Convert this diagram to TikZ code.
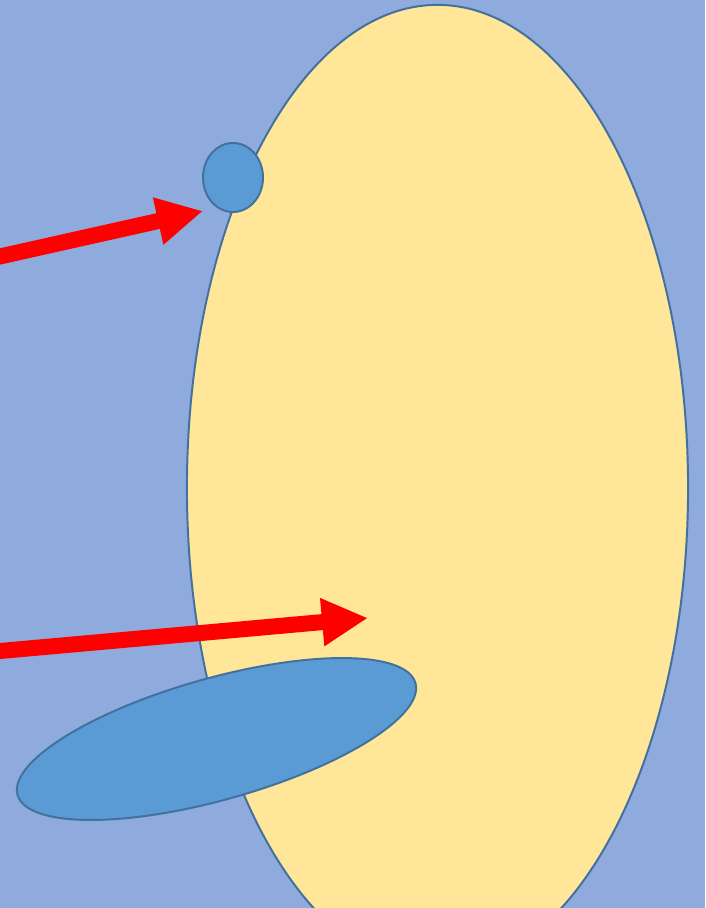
\documentclass[tikz,border=0pt]{standalone}
\definecolor{SkyBlue}{HTML}{8FAADC}
\definecolor{EggYellow}{HTML}{FFE699}
\definecolor{CellBlue}{HTML}{5B9BD5}
\definecolor{EdgeBlue}{HTML}{41719C}
\usetikzlibrary{arrows.meta, shapes.geometric}

\begin{document}
\begin{tikzpicture}[x=0.025cm, y=-0.025cm,
    blob/.style={ellipse, draw=EdgeBlue, line width=1.4pt, inner sep=0pt},
    pointer/.style={draw=red, line width=0.4cm,
      -{Triangle[length=1.15cm, width=1.125cm]}}]
  \clip (0,0) rectangle (705,908);
  \fill[SkyBlue] (0,0) rectangle (705,908);
  % Large cell body
  \node[blob, fill=EggYellow, minimum width=12.525cm, minimum height=24.15cm]
    (egg) at (437.5,488) {};
  % Arrows
  \coordinate (tailA) at (-10,258.7);
  \coordinate (tipA) at (203,211);
  \coordinate (tailB) at (-10,651.9);
  \coordinate (tipB) at (368,618);
  \draw[pointer] (tailA) -- (tipA);
  \draw[pointer] (tailB) -- (tipB);
  % Small blue bodies
  \node[blob, fill=CellBlue, minimum width=1.5cm, minimum height=1.725cm]
    (dot) at (233,177.5) {};
  \node[blob, fill=CellBlue, minimum width=10.33cm, minimum height=3.04cm,
    rotate=15.7] (slab) at (216.5,739) {};
\end{tikzpicture}
\end{document}
